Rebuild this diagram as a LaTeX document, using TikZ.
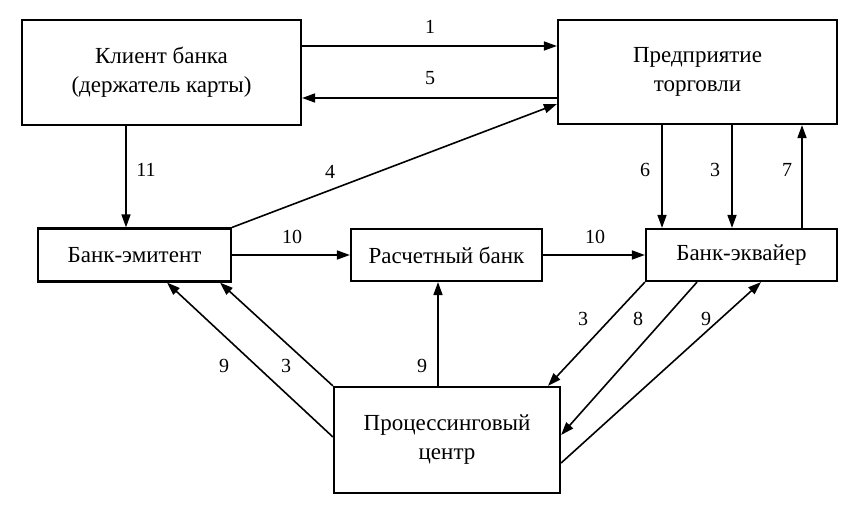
\documentclass[tikz,border=0pt]{standalone}
\usepackage{fontspec}
\setmainfont{Liberation Serif}
\usepackage{tikz}
\usetikzlibrary{arrows.meta, positioning}

\tikzset{
  box/.style={draw, line width=2.2pt, align=center, inner sep=0pt,
    font=\fontsize{23}{29}\selectfont},
  arr/.style={line width=1.6pt, -{Triangle[length=13pt, width=9pt]}},
  num/.style={font=\fontsize{20}{22}\selectfont}
}

\begin{document}
\begin{tikzpicture}[x=1pt, y=-1pt]
  \useasboundingbox (0,0) rectangle (858,510);

  % Boxes
  \node[box, minimum width=279pt, minimum height=105pt] (client) at (161.5,72.5) {Клиент банка\\(держатель карты)};
  \node[box, minimum width=279pt, minimum height=104pt] (shop) at (697.5,72) {Предприятие\\торговли};
  \node[box, minimum width=193pt, minimum height=53pt] (issuer) at (134.5,255) {Банк-эмитент};
  \node[box, minimum width=191pt, minimum height=52pt] (settle) at (446.5,255) {Расчетный банк};
  \node[box, minimum width=191pt, minimum height=52pt] (acq) at (741.5,255) {Банк-эквайер};
  \node[box, minimum width=226pt, minimum height=106pt] (proc) at (447,440) {Процессинговый\\центр};

  % Client and shop
  \draw[arr] (client.east |- 0,46) -- (shop.west |- 0,46);
  \draw[arr] (shop.west |- 0,98) -- (client.east |- 0,98);
  \draw[arr] (issuer.north east) -- (shop.west |- 0,104);
  \draw[arr] (client.south -| 126,0) -- (issuer.north -| 126,0);

  % Shop and acquirer
  \draw[arr] (shop.south -| 662,0) -- (acq.north -| 662,0);
  \draw[arr] (shop.south -| 732,0) -- (acq.north -| 732,0);
  \draw[arr] (acq.north -| 802,0) -- (shop.south -| 802,0);

  % Settlement
  \draw[arr] (issuer.east) -- (settle.west);
  \draw[arr] (settle.east) -- (acq.west);
  \draw[arr] (proc.north -| 438,0) -- (settle.south -| 438,0);

  % Processing center
  \draw[arr] (proc.west |- 0,437) -- (issuer.south -| 167,0);
  \draw[arr] (proc.north west) -- (issuer.south -| 220,0);
  \draw[arr] (acq.south west) -- (proc.north -| 548,0);
  \draw[arr] (acq.south -| 697,0) -- (proc.east |- 0,435);
  \draw[arr] (proc.east |- 0,463) -- (acq.south -| 761,0);

  % Numbers
  \node[num] (n1) at (430,27) {1};
  \node[num] (n5) at (430,78) {5};
  \node[num] (n4) at (330,172) {4};
  \node[num] (n11) at (146,170) {11};
  \node[num] (n10a) at (292,237) {10};
  \node[num] (n10b) at (595,237) {10};
  \node[num] (n6) at (645,170) {6};
  \node[num] (n3a) at (715,170) {3};
  \node[num] (n7) at (787,170) {7};
  \node[num] (n9a) at (422,366) {9};
  \node[num] (n9b) at (224,366) {9};
  \node[num] (n3b) at (286,366) {3};
  \node[num] (n3c) at (583,319) {3};
  \node[num] (n8) at (638,319) {8};
  \node[num] (n9c) at (706,319) {9};
\end{tikzpicture}
\end{document}
